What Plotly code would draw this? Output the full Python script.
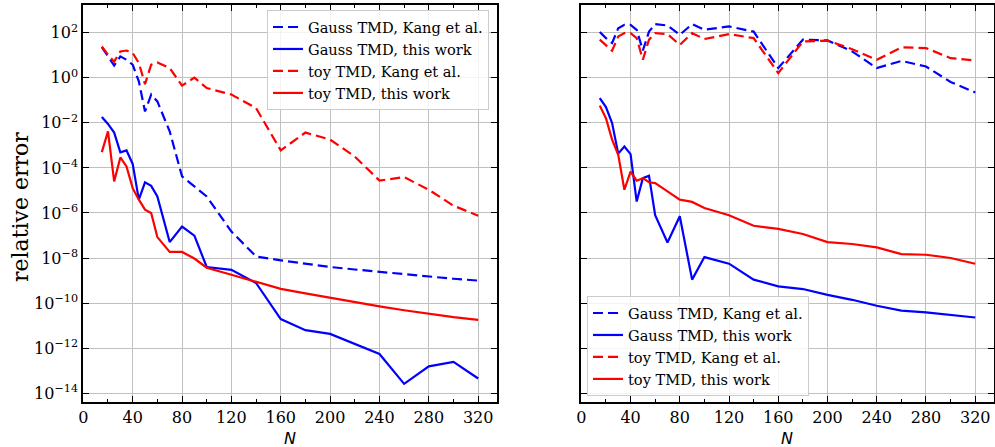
import plotly.graph_objects as go

N = [15, 20, 25, 30, 35, 40, 45, 50, 55, 60, 70, 80, 90, 100, 120, 140, 160,
     180, 200, 220, 240, 260, 280, 300, 320]

# left panel
gauss_kang_L = [23, 8.9, 3.5, 8.9, 6.3, 3.8, 0.69, 3.2e-2, 1.8e-1, 8.9e-2, 4.2e-3, 4.2e-5,
                1.5e-5, 5.4e-6, 1.5e-7, 1.17e-8, 7.9e-9, 5.6e-9, 4.0e-9, 3.1e-9, 2.4e-9,
                1.9e-9, 1.45e-9, 1.2e-9, 1.0e-9]
gauss_this_L = [1.8e-2, 8.9e-3, 3.7e-3, 4.9e-4, 6.0e-4, 1.5e-4, 3.9e-6, 2.3e-5, 1.6e-5, 5.4e-6,
                5.1e-8, 2.5e-7, 9.8e-8, 4.0e-9, 3.0e-9, 7.8e-10, 1.95e-11, 6.3e-12, 4.3e-12,
                1.5e-12, 5.5e-13, 2.6e-14, 1.55e-13, 2.45e-13, 4.5e-14]
toy_kang_L = [24.5, 10.5, 5.2, 14.8, 16.2, 12.6, 4.5, 0.52, 3.8, 4.8, 2.7, 0.45, 1.02, 0.35,
              0.18, 4.5e-2, 6.0e-4, 3.7e-3, 1.8e-3, 3.2e-4, 2.75e-5, 3.9e-5, 1.07e-5, 2.1e-6,
              7.6e-7]
toy_this_L = [5.0e-4, 4.2e-3, 2.5e-5, 2.9e-4, 1.17e-4, 1.26e-5, 3.9e-6, 1.4e-6, 1.0e-6, 8.5e-8,
              1.86e-8, 1.86e-8, 9.5e-9, 3.7e-9, 1.8e-9, 8.9e-10, 4.3e-10, 2.7e-10, 1.7e-10,
              1.1e-10, 7.1e-11, 4.8e-11, 3.3e-11, 2.4e-11, 1.8e-11]

# right panel
gauss_kang_R = [107, 57.5, 34.7, 158, 224, 224, 135, 16.2, 112, 240, 209, 81, 240, 135, 190,
                112, 2.7, 49, 45.7, 14.8, 2.7, 5.6, 3.16, 0.65, 0.224]
gauss_this_R = [0.126, 0.050, 9.8e-3, 4.3e-4, 8.9e-4, 4.1e-4, 3.2e-6, 3.5e-5, 4.5e-5, 7.9e-7,
                4.9e-8, 7.1e-7, 1.1e-9, 1.1e-8, 5.6e-9, 1.1e-9, 5.5e-10, 4.2e-10, 2.3e-10,
                1.4e-10, 7.6e-11, 4.6e-11, 3.9e-11, 3.1e-11, 2.3e-11]
toy_kang_R = [49, 28.2, 15.8, 67.6, 95.5, 95.5, 57.5, 6.3, 49, 95.5, 87, 28.8, 95.5, 52.5, 87,
              57.5, 1.62, 40.7, 44.7, 18.6, 6.3, 22.4, 20.9, 7.4, 5.9]
toy_this_R = [5.8e-2, 1.6e-2, 1.8e-3, 3.8e-4, 1.07e-5, 6.9e-5, 2.7e-5, 3.5e-5, 2.3e-5, 2.1e-5,
              9.1e-6, 3.9e-6, 3.1e-6, 1.66e-6, 7.9e-7, 2.7e-7, 1.95e-7, 1.17e-7, 5.1e-8,
              4.2e-8, 2.95e-8, 1.5e-8, 1.4e-8, 1.0e-8, 5.6e-9]

labels = ["Gauss TMD, Kang et al.", "Gauss TMD, this work",
          "toy TMD, Kang et al.", "toy TMD, this work"]
colors = ["#0000ff", "#0000ff", "#ff0000", "#ff0000"]
dashes = ["10px,5px", "solid", "10px,5px", "solid"]

x_ticks = [0, 40, 80, 120, 160, 200, 240, 280, 320]
y_exps = [2, 0, -2, -4, -6, -8, -10, -12, -14]
y_tickvals = [10.0 ** e for e in y_exps]
y_ticktext = ["10<sup>%s</sup>" % (str(e).replace("-", "−")) for e in y_exps]

SERIF = "DejaVu Serif, Liberation Serif, serif"
W, H = 995, 447
fig = go.Figure()

left = [gauss_kang_L, gauss_this_L, toy_kang_L, toy_this_L]
right = [gauss_kang_R, gauss_this_R, toy_kang_R, toy_this_R]
for i in range(4):
    fig.add_trace(go.Scatter(x=N, y=left[i], mode="lines", name=labels[i],
                             line=dict(color=colors[i], width=2.2, dash=dashes[i]),
                             xaxis="x", yaxis="y", legend="legend"))
for i in range(4):
    fig.add_trace(go.Scatter(x=N, y=right[i], mode="lines", name=labels[i],
                             line=dict(color=colors[i], width=2.2, dash=dashes[i]),
                             xaxis="x2", yaxis="y2", legend="legend2"))

tickfont = dict(family=SERIF, size=16, color="black")
ybot, ytop = 1 - 402 / H, 1 - 5 / H
common_x = dict(range=[-0.25, 335.25], tickmode="array", tickvals=x_ticks,
                ticks="inside", ticklen=6, tickwidth=1.2, tickcolor="black",
                mirror="allticks", showline=True, linecolor="black", linewidth=1.5,
                showgrid=True, gridcolor="#c0c0c0", gridwidth=1, zeroline=False,
                minor=dict(tickmode="array", tickvals=[20, 60, 100, 140, 180, 220, 260, 300],
                           ticks="inside", ticklen=3, tickcolor="black", showgrid=False),
                tickfont=tickfont, automargin=False)
common_y = dict(type="log", range=[-14.39, 3.23], tickmode="array", tickvals=y_tickvals,
                ticktext=y_ticktext, ticks="inside", ticklen=6, tickwidth=1.2,
                tickcolor="black", mirror="allticks", showline=True, linecolor="black",
                linewidth=1.5, showgrid=True, gridcolor="#c0c0c0", gridwidth=1,
                zeroline=False, tickfont=tickfont, automargin=False)

legfont = dict(family=SERIF, size=14.6, color="black")
fig.update_layout(
    width=W, height=H, margin=dict(l=0, r=0, t=0, b=0),
    paper_bgcolor="white", plot_bgcolor="white", template="none",
    xaxis=dict(domain=[83 / W, 497 / W], anchor="y", **common_x),
    yaxis=dict(domain=[ybot, ytop], anchor="x", **common_y),
    xaxis2=dict(domain=[581 / W, 994 / W], anchor="y2", **common_x),
    yaxis2=dict(domain=[ybot, ytop], anchor="x2", showticklabels=False, **common_y),
    legend=dict(x=267 / W, y=1 - 10 / H, xanchor="left", yanchor="top",
                bgcolor="rgba(255,255,255,0.8)", bordercolor="#cccccc", borderwidth=1,
                font=legfont),
    legend2=dict(x=587 / W, y=1 - 396 / H, xanchor="left", yanchor="bottom",
                 bgcolor="rgba(255,255,255,0.8)", bordercolor="#cccccc", borderwidth=1,
                 font=legfont),
    showlegend=True,
    annotations=[
        dict(text="relative error", x=20 / W, y=1 - 207 / H, xref="paper", yref="paper",
             textangle=-90, showarrow=False, xanchor="center", yanchor="middle",
             font=dict(family=SERIF, size=22, color="black")),
        dict(text="<i>N</i>", x=290 / W, y=1 - 438 / H, xref="paper", yref="paper",
             showarrow=False, xanchor="center", yanchor="middle",
             font=dict(family="DejaVu Sans", size=16, color="black")),
        dict(text="<i>N</i>", x=787 / W, y=1 - 438 / H, xref="paper", yref="paper",
             showarrow=False, xanchor="center", yanchor="middle",
             font=dict(family="DejaVu Sans", size=16, color="black")),
    ],
)

fig.write_html("out.html")
